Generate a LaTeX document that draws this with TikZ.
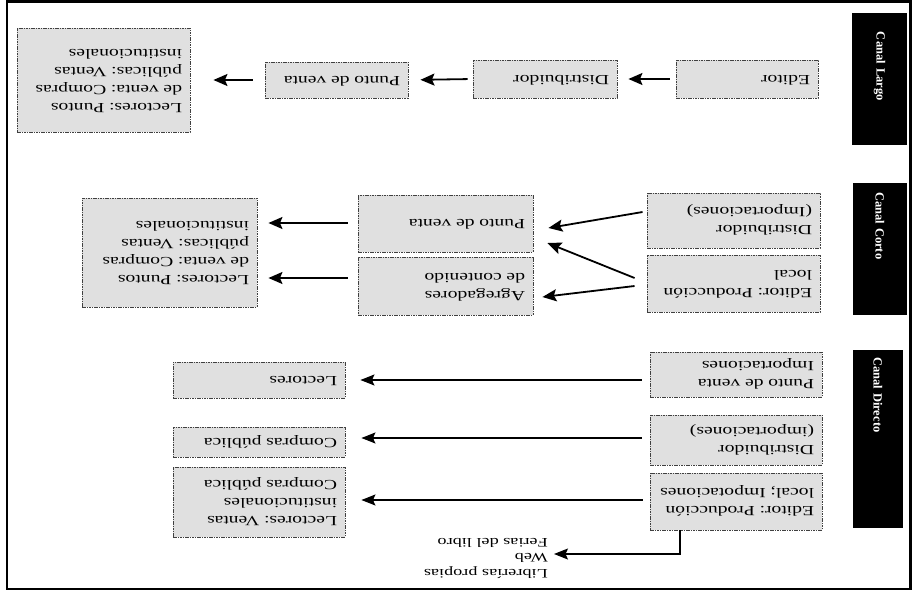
\documentclass[tikz,border=0pt]{standalone}
\usepackage{fontspec}
\setmainfont{Liberation Serif}
\newfontfamily\bxf[FakeStretch=1.4]{Liberation Serif}
\usepackage{graphicx}
\usetikzlibrary{arrows.meta,calc}
\frenchspacing
\newcommand\ud[1]{\rotatebox[origin=c]{180}{\begin{tabular}{@{}l@{}}#1\end{tabular}}}
\begin{document}
\begin{tikzpicture}[x=1pt,y=-1pt,
  box/.style={draw=black!75, fill=black!12, dash pattern=on 1.6pt off 0.8pt,
    line width=0.9pt, inner xsep=8pt, inner ysep=0pt, align=right,
    font=\bxf\fontsize{14}{18}\selectfont},
  lab/.style={fill=black, text=white, rotate=-90, align=left, inner ysep=0pt,
    font=\bfseries\fontsize{12.5}{14}\selectfont},
  aL/.style={line width=1.8pt, -{Stealth[length=14pt,width=12pt,inset=2.5pt]}},
  aD/.style={line width=1.1pt, -{Stealth[length=14pt,width=11pt,inset=2.5pt]}}]
\useasboundingbox (0,0) rectangle (913,599);
\draw[line width=2.2pt] (7,1.5) rectangle (910.5,589);

% channel labels
\node[lab, minimum height=55pt, inner xsep=19pt, text width=94pt] (LL) at (879.5,79) {Canal Largo};
\node[lab, minimum height=54pt, inner xsep=9pt, text width=114pt] (LC) at (880,249) {Canal Corto};
\node[lab, minimum height=50pt, inner xsep=7pt, text width=164pt] (LD) at (878,439) {Canal Directo};

% Canal Largo
\node[box, text width=126pt, minimum height=38pt] (L1) at (747,79) {\ud{Editor}};
\node[box, text width=128pt, minimum height=38pt] (L2) at (545,79) {\ud{Distribuidor}};
\node[box, text width=127pt, minimum height=36pt] (L3) at (336.5,80) {\ud{Punto de venta}};
\node[box, text width=157pt, minimum height=104pt] (L4) at (103.5,80) {\ud{Lectores: Puntos\\de venta: Compras\\públicas: Ventas\\institucionales}};
\draw[aL, shorten <=6pt, shorten >=11pt] (L1.west) -- (L2.east);
\draw[aL, shorten <=5pt, shorten >=12pt] (L2.west) -- (L3.east);
\draw[aL, shorten <=12pt, shorten >=23pt] (L3.west) -- (L3.west -| L4.east);

% Canal Corto
\node[box, text width=157pt, minimum height=55pt] (C1) at (733.5,220.5) {\ud{Distribuidor\\(Importaciones)}};
\node[box, text width=157pt, minimum height=57pt] (C2) at (733.5,283.5) {\ud{Editor: Producción\\local}};
\node[box, text width=159pt, minimum height=57pt] (C3) at (445.5,223.5) {\ud{Punto de venta}};
\node[box, text width=159pt, minimum height=58pt] (C4) at (445.5,286) {\ud{Agregadores\\de contenido}};
\node[box, text width=159pt, minimum height=109pt] (C5) at (169.5,252.5) {\ud{Lectores: Puntos\\de venta: Compras\\públicas: Ventas\\institucionales}};
\draw[aL] ($(C1.west)+(-4,-8.5)$) -- ($(C3.east)+(15,4.5)$);
\draw[aL] ($(C2.west)+(-12,-5.5)$) -- ($(C3.east)+(14,19.5)$);
\draw[aL] ($(C2.west)+(-12,2.5)$) -- ($(C4.east)+(9,11)$);
\draw[aL] ($(C3.west)+(-10,-0.5)$) -- ($(C5.east)+(11,-29.5)$);
\draw[aL] ($(C4.west)+(-10,-8)$) -- ($(C5.east)+(11,25.5)$);

% Canal Directo
\node[box, text width=156pt, minimum height=45pt] (D1) at (736,374.5) {\ud{Punto de venta\\Importaciones}};
\node[box, text width=156pt, minimum height=50pt] (D2) at (736,440) {\ud{Distribuidor\\(importaciones)}};
\node[box, text width=156pt, minimum height=57pt] (D3) at (736,501.5) {\ud{Editor: Producción\\local; Impotaciones}};
\node[box, text width=156pt, minimum height=36pt] (D4) at (259,380) {\ud{Lectores}};
\node[box, text width=156pt, minimum height=30pt] (D5) at (259,442) {\ud{Compras pública}};
\node[box, text width=156pt, minimum height=70pt] (D6) at (259,502) {\ud{Lectores: Ventas\\institucionales\\Compras pública}};
\draw[aD] ($(D1.west |- D4.east)+(-8,0)$) -- ($(D4.east)+(15,0)$);
\draw[aD] ($(D2.west |- D5.east)+(-8,-4)$) -- ($(D5.east)+(16,-4)$);
\draw[aD] ($(D3.west |- D6.east)+(-7,-2)$) -- ($(D6.east)+(16,-2)$);

\node[anchor=east, inner sep=0pt, font=\bxf\fontsize{13}{15.5}\selectfont] (W) at (548,557) {\ud{Librerías propias\\Web\\Ferias del libro}};
\draw[aD] ($(D3.south)+(-56,0)$) |- ($(W.east)+(6,-3)$);
\end{tikzpicture}
\end{document}
